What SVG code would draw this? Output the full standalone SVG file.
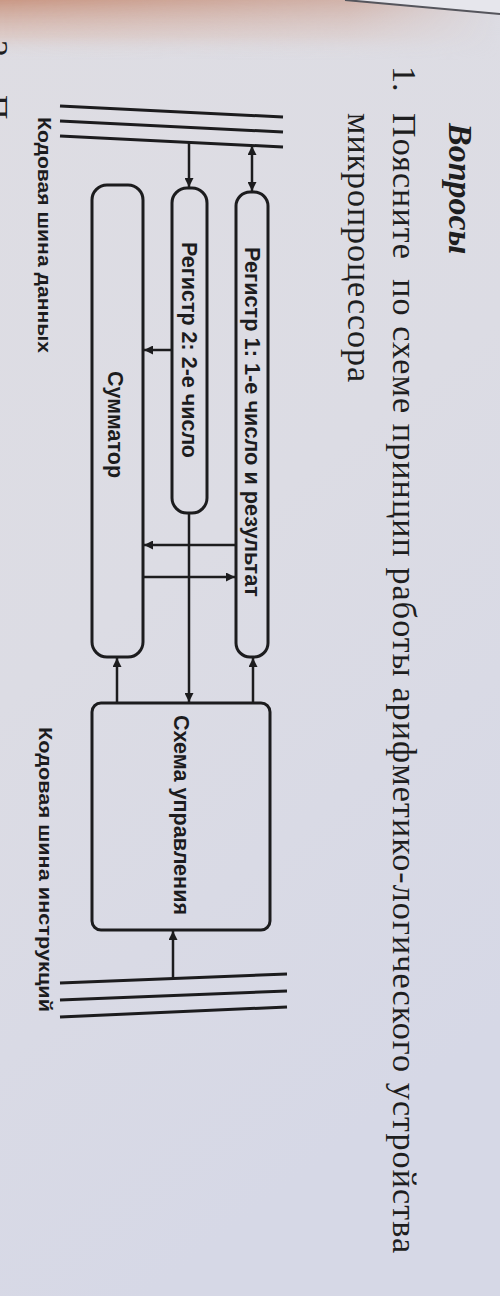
<svg xmlns="http://www.w3.org/2000/svg" width="500" height="1296" viewBox="0 0 500 1296">
<defs>
<linearGradient id="paper" x1="0" y1="0" x2="0.3" y2="1">
<stop offset="0" stop-color="#dedde3"/>
<stop offset="0.5" stop-color="#dcdce4"/>
<stop offset="1" stop-color="#d6d8e6"/>
</linearGradient>
<linearGradient id="warm" x1="0" y1="0" x2="0" y2="1">
<stop offset="0" stop-color="#c7907a" stop-opacity="0.9"/>
<stop offset="0.6" stop-color="#d9b8ac" stop-opacity="0.5"/>
<stop offset="1" stop-color="#dedde3" stop-opacity="0"/>
</linearGradient>
<linearGradient id="warmx" x1="0" y1="0" x2="1" y2="0">
<stop offset="0" stop-color="#fff" stop-opacity="1"/>
<stop offset="0.7" stop-color="#fff" stop-opacity="0.6"/>
<stop offset="1" stop-color="#fff" stop-opacity="0"/>
</linearGradient>
<mask id="wm"><rect x="0" y="0" width="500" height="60" fill="url(#warmx)"/></mask>
<marker id="ah" viewBox="0 0 10 10" refX="10" refY="5" markerWidth="10" markerHeight="9" markerUnits="userSpaceOnUse" orient="auto-start-reverse">
<path d="M0,0 L10,5 L0,10 z" fill="#1c1c1e"/>
</marker>
<style>
.box{fill:none;stroke:#1c1c1e;stroke-width:3}
.bus{stroke:#1c1c1e;stroke-width:3;fill:none}
.con{stroke:#1c1c1e;stroke-width:2.5;fill:none}
.lbl{font-family:"Liberation Sans",Arial,sans-serif;font-weight:bold;font-size:22px;fill:#1c1c1e}
.bl{font-family:"Liberation Sans",Arial,sans-serif;font-weight:bold;font-size:19px;fill:#1c1c1e}
.ser{font-family:"Liberation Serif","Times New Roman",serif;font-size:34px;fill:#1e1e20}
</style>
</defs>
<rect x="0" y="0" width="500" height="1296" fill="url(#paper)"/>
<rect x="0" y="0" width="500" height="60" fill="url(#warm)" mask="url(#wm)"/>
<path d="M345,0 L500,14 L500,0 z" fill="#e6e6ec"/>
<line x1="345" y1="0" x2="500" y2="14" stroke="#55555c" stroke-width="2"/>

<g id="page-text">
<text class="ser" transform="translate(-15,40) rotate(90)">2.</text>
<text class="ser" transform="translate(-15,95) rotate(90)">П</text>
<text class="ser" font-weight="bold" font-style="italic" font-size="30" transform="translate(449,123) rotate(90)">Вопросы</text>
<text class="ser" transform="translate(393,66) rotate(90)">1.</text>
<text class="ser" style="white-space:pre" textLength="1140" transform="translate(393,113) rotate(90)">Поясните  по схеме принцип работы арифметико-логического устройства</text>
<text class="ser" textLength="269" transform="translate(348,113) rotate(90)">микропроцессора</text>
</g>

<g id="bus-data">
<line class="bus" x1="60" y1="106" x2="283" y2="117"/>
<line class="bus" x1="60" y1="121" x2="283" y2="132"/>
<line class="bus" x1="60" y1="136" x2="283" y2="147"/>
<text class="bl" textLength="236" lengthAdjust="spacingAndGlyphs" transform="translate(38,117) rotate(90)">Кодовая шина данных</text>
</g>

<g id="bus-instr">
<line class="bus" x1="60" y1="983" x2="287" y2="974"/>
<line class="bus" x1="60" y1="1000" x2="287" y2="991"/>
<line class="bus" x1="60" y1="1017" x2="287" y2="1007"/>
<text class="bl" textLength="285" lengthAdjust="spacingAndGlyphs" transform="translate(39,727) rotate(90)">Кодовая шина инструкций</text>
</g>

<g id="reg1">
<rect class="box" x="236" y="192" width="32" height="465" rx="14" ry="14"/>
<text class="lbl" textLength="350" lengthAdjust="spacingAndGlyphs" transform="translate(245,247) rotate(90)">Регистр 1: 1-е число и результат</text>
</g>

<g id="reg2">
<rect class="box" x="172" y="188" width="35" height="325" rx="15" ry="15"/>
<text class="lbl" textLength="216" lengthAdjust="spacingAndGlyphs" transform="translate(182,242) rotate(90)">Регистр 2: 2-е число</text>
</g>

<g id="adder">
<rect class="box" x="92" y="185" width="51" height="472" rx="15" ry="15"/>
<text class="lbl" textLength="107" lengthAdjust="spacingAndGlyphs" transform="translate(108,371) rotate(90)">Сумматор</text>
</g>

<g id="control">
<rect class="box" x="92" y="703" width="178" height="227" rx="9" ry="9"/>
<text class="lbl" textLength="200" lengthAdjust="spacingAndGlyphs" transform="translate(174,715) rotate(90)">Схема управления</text>
</g>

<g id="connectors">
<line class="con" x1="189" y1="142" x2="189" y2="187" marker-end="url(#ah)"/>
<line class="con" x1="252" y1="146" x2="252" y2="191" marker-start="url(#ah)" marker-end="url(#ah)"/>
<line class="con" x1="172" y1="350" x2="144" y2="350" marker-end="url(#ah)"/>
<line class="con" x1="236" y1="545" x2="144" y2="545" marker-end="url(#ah)"/>
<line class="con" x1="144" y1="577" x2="235" y2="577" marker-end="url(#ah)"/>
<line class="con" x1="189" y1="513" x2="189" y2="702" marker-end="url(#ah)"/>
<line class="con" x1="117" y1="703" x2="117" y2="658" marker-end="url(#ah)"/>
<line class="con" x1="253" y1="703" x2="253" y2="658" marker-end="url(#ah)"/>
<line class="con" x1="173" y1="978" x2="173" y2="931" marker-end="url(#ah)"/>
</g>
</svg>
